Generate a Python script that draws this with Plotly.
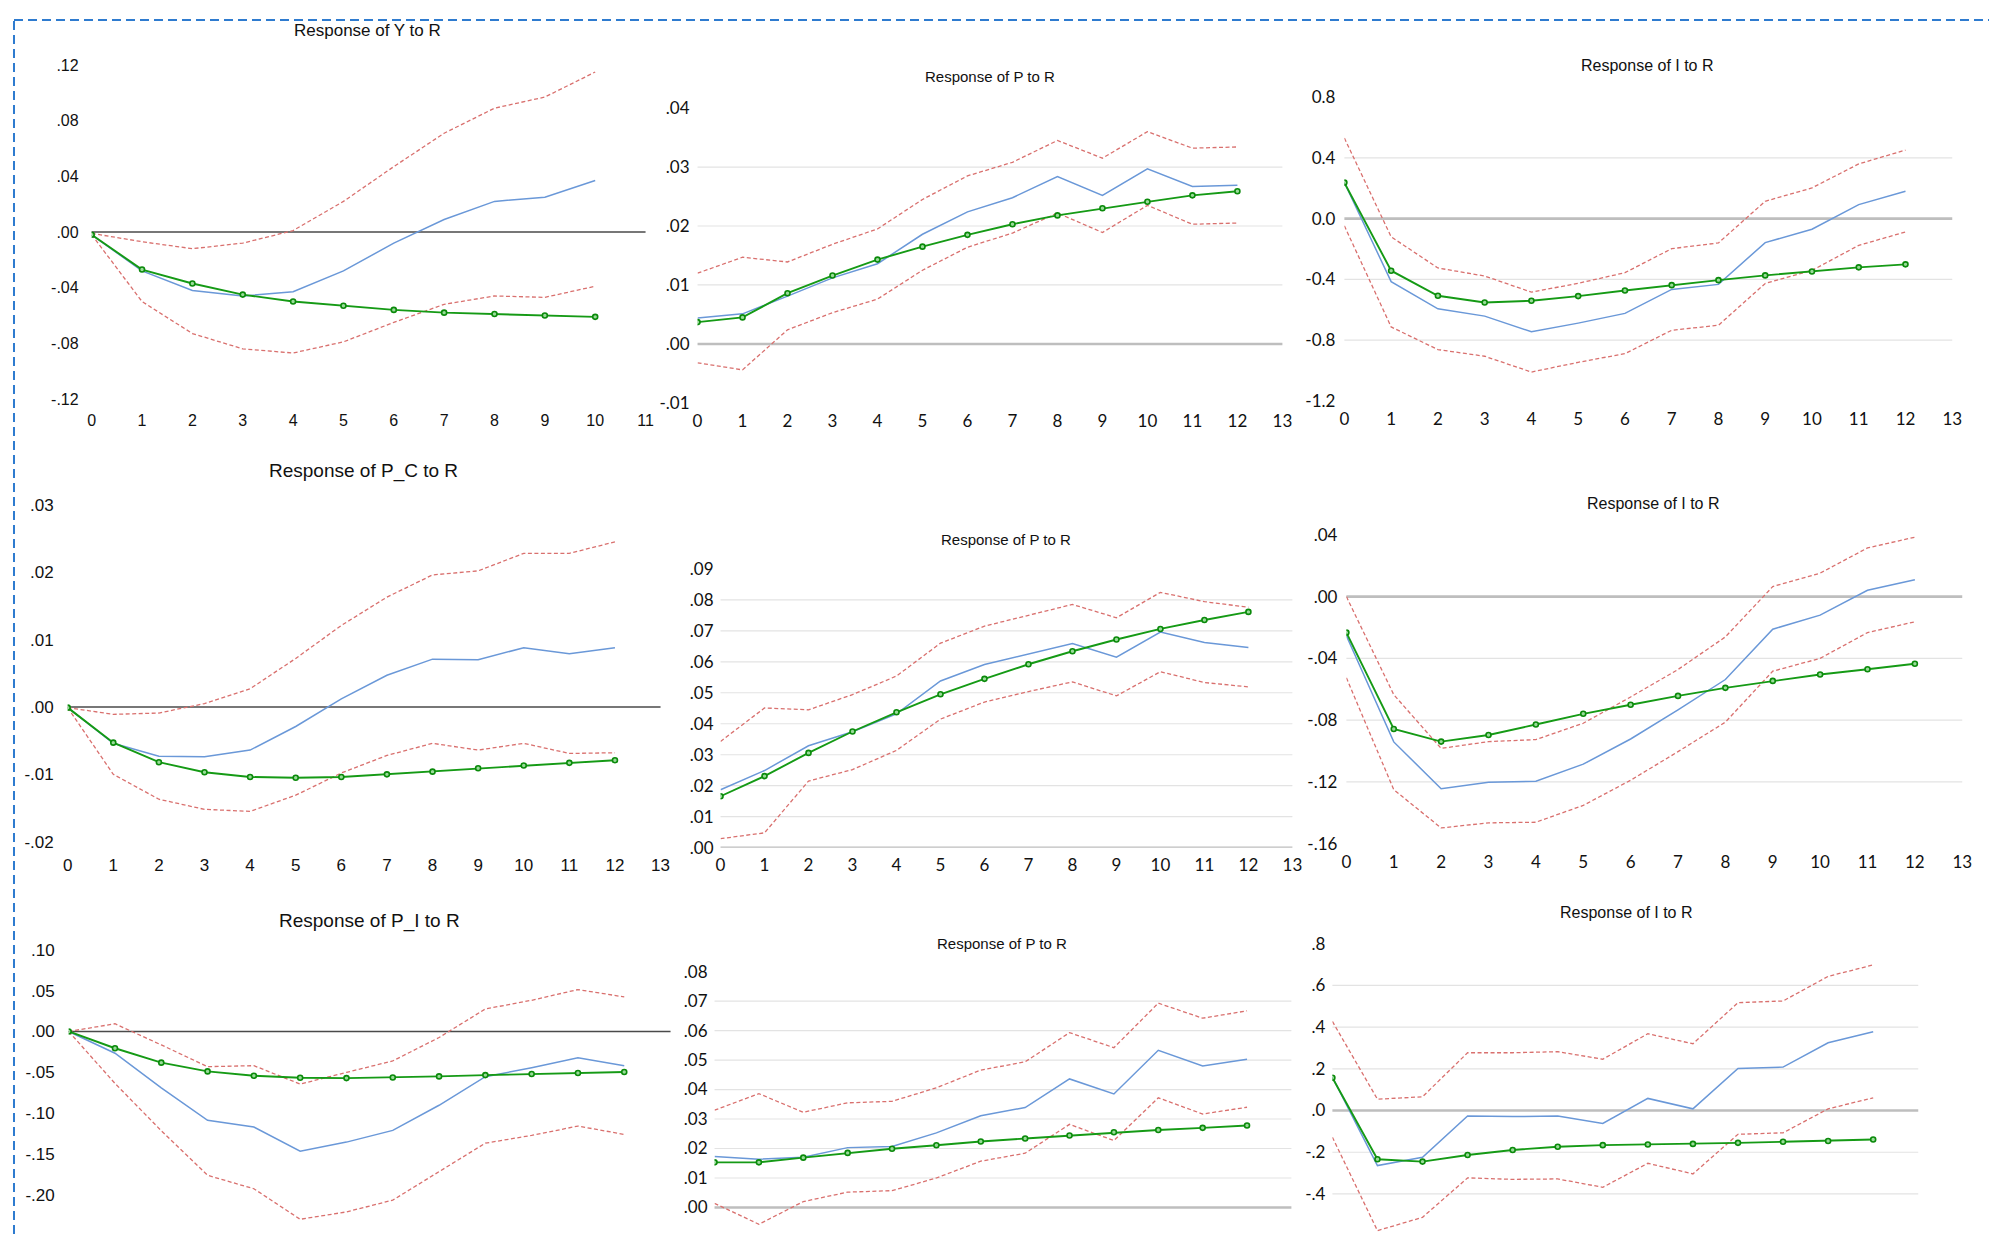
import plotly.graph_objects as go

# where a figure pixel ends up on the 2007x1241 photo (measured from earlier renders)
ORG_X, SCALE_X = 12.3, 0.9927
ORG_Y, SCALE_Y = 17.9, 0.9835
FIG_W, FIG_H = 1991, 1236

steps_10 = list(range(11))
steps_12 = list(range(13))

# Response of Y to R
y_r_upper = [-0.001, -0.007, -0.012, -0.008, 0.001, 0.022, 0.047, 0.071, 0.089, 0.097, 0.115]
y_r_resp = [-0.002, -0.028, -0.042, -0.046, -0.043, -0.028, -0.008, 0.009, 0.022, 0.025, 0.037]
y_r_fitted = [-0.002, -0.027, -0.037, -0.045, -0.050, -0.053, -0.056, -0.058, -0.059, -0.060, -0.061]
y_r_lower = [-0.002, -0.050, -0.073, -0.084, -0.087, -0.079, -0.065, -0.052, -0.046, -0.047, -0.039]
y_r_ticks = [".12", ".08", ".04", ".00", "-.04", "-.08", "-.12"]

# Response of P to R (top)
p_r_upper = [0.0120, 0.0147, 0.0139, 0.0169, 0.0195, 0.0245, 0.0285, 0.0308, 0.0345, 0.0315, 0.0360, 0.0332, 0.0334]
p_r_resp = [0.0044, 0.0051, 0.0081, 0.0112, 0.0136, 0.0186, 0.0224, 0.0248, 0.0284, 0.0252, 0.0297, 0.0267, 0.0269]
p_r_fitted = [0.0037, 0.0045, 0.0086, 0.0116, 0.0143, 0.0165, 0.0185, 0.0203, 0.0218, 0.0230, 0.0241, 0.0252, 0.0259]
p_r_lower = [-0.0032, -0.0044, 0.0024, 0.0053, 0.0076, 0.0125, 0.0164, 0.0188, 0.0222, 0.0189, 0.0235, 0.0203, 0.0205]
p_r_ticks = [".04", ".03", ".02", ".01", ".00", "-.01"]

# Response of I to R (top)
i_r_upper = [0.530, -0.120, -0.325, -0.378, -0.484, -0.426, -0.356, -0.198, -0.160, 0.114, 0.202, 0.360, 0.451]
i_r_resp = [0.237, -0.415, -0.594, -0.642, -0.745, -0.688, -0.624, -0.466, -0.433, -0.158, -0.070, 0.092, 0.180]
i_r_fitted = [0.237, -0.343, -0.508, -0.552, -0.541, -0.510, -0.473, -0.438, -0.405, -0.374, -0.348, -0.321, -0.301]
i_r_lower = [-0.048, -0.713, -0.862, -0.906, -1.010, -0.946, -0.889, -0.735, -0.702, -0.427, -0.341, -0.176, -0.088]
i_r_ticks = ["0.8", "0.4", "0.0", "-0.4", "-0.8", "-1.2"]

# Response of P_C to R
pc_r_upper = [-0.0001, -0.0011, -0.0009, 0.0005, 0.0027, 0.0072, 0.0121, 0.0163, 0.0196, 0.0202, 0.0228, 0.0228, 0.0245]
pc_r_resp = [-0.0001, -0.0054, -0.0073, -0.0074, -0.0064, -0.0029, 0.0012, 0.0047, 0.0071, 0.0070, 0.0088, 0.0079, 0.0088]
pc_r_fitted = [-0.0001, -0.0053, -0.0082, -0.0097, -0.0104, -0.0105, -0.0104, -0.0100, -0.0096, -0.0091, -0.0087, -0.0083, -0.0079]
pc_r_lower = [-0.0001, -0.0100, -0.0137, -0.0152, -0.0155, -0.0131, -0.0098, -0.0072, -0.0054, -0.0064, -0.0054, -0.0069, -0.0068]
pc_r_ticks = [".03", ".02", ".01", ".00", "-.01", "-.02"]

# Response of P to R (middle)
p2_r_upper = [0.0343, 0.0451, 0.0445, 0.0494, 0.0554, 0.0660, 0.0715, 0.0749, 0.0785, 0.0742, 0.0824, 0.0794, 0.0776]
p2_r_resp = [0.0187, 0.0249, 0.0329, 0.0374, 0.0432, 0.0538, 0.0591, 0.0626, 0.0659, 0.0615, 0.0696, 0.0662, 0.0646]
p2_r_fitted = [0.0166, 0.0231, 0.0306, 0.0375, 0.0437, 0.0495, 0.0545, 0.0592, 0.0634, 0.0672, 0.0706, 0.0735, 0.0761]
p2_r_lower = [0.0029, 0.0048, 0.0215, 0.0252, 0.0314, 0.0415, 0.0470, 0.0504, 0.0535, 0.0490, 0.0568, 0.0533, 0.0519]
p2_r_ticks = [".09", ".08", ".07", ".06", ".05", ".04", ".03", ".02", ".01", ".00"]

# Response of I to R (middle)
i2_r_upper = [0.0, -0.0635, -0.0983, -0.0939, -0.0926, -0.0820, -0.0650, -0.0472, -0.0261, 0.0065, 0.0152, 0.0315, 0.0385]
i2_r_resp = [-0.0254, -0.0941, -0.1244, -0.1202, -0.1196, -0.1085, -0.0922, -0.0733, -0.0537, -0.0211, -0.0120, 0.0041, 0.0109]
i2_r_fitted = [-0.0233, -0.0857, -0.0939, -0.0896, -0.0828, -0.0759, -0.0700, -0.0643, -0.0591, -0.0546, -0.0504, -0.0470, -0.0435]
i2_r_lower = [-0.0526, -0.1250, -0.1498, -0.1465, -0.1461, -0.1352, -0.1189, -0.1004, -0.0813, -0.0483, -0.0400, -0.0233, -0.0163]
i2_r_ticks = [".04", ".00", "-.04", "-.08", "-.12", "-.16"]

# Response of P_I to R
pi_r_upper = [0.0, 0.0094, -0.0164, -0.0430, -0.0418, -0.0643, -0.0500, -0.0360, -0.0074, 0.0275, 0.0381, 0.0512, 0.0422]
pi_r_resp = [0.0, -0.0266, -0.0689, -0.1086, -0.1168, -0.1463, -0.1352, -0.1209, -0.0902, -0.0553, -0.0443, -0.0320, -0.0418]
pi_r_fitted = [0.0, -0.0205, -0.0381, -0.0488, -0.0541, -0.0566, -0.0570, -0.0562, -0.0549, -0.0533, -0.0520, -0.0508, -0.0496]
pi_r_lower = [0.0, -0.0635, -0.1213, -0.1758, -0.1922, -0.2295, -0.2205, -0.2061, -0.1713, -0.1365, -0.1270, -0.1156, -0.1258]
pi_r_ticks = [".10", ".05", ".00", "-.05", "-.10", "-.15", "-.20", "-.25"]

# Response of P to R (bottom)
p3_r_upper = [0.0330, 0.0386, 0.0323, 0.0355, 0.0360, 0.0406, 0.0466, 0.0494, 0.0593, 0.0542, 0.0693, 0.0642, 0.0667]
p3_r_resp = [0.0173, 0.0164, 0.0170, 0.0203, 0.0207, 0.0253, 0.0311, 0.0339, 0.0436, 0.0385, 0.0533, 0.0480, 0.0503]
p3_r_fitted = [0.0153, 0.0153, 0.0169, 0.0185, 0.0199, 0.0211, 0.0224, 0.0234, 0.0244, 0.0255, 0.0263, 0.0270, 0.0278]
p3_r_lower = [0.0014, -0.0057, 0.0020, 0.0052, 0.0057, 0.0100, 0.0157, 0.0184, 0.0282, 0.0227, 0.0372, 0.0317, 0.0340]
p3_r_ticks = [".08", ".07", ".06", ".05", ".04", ".03", ".02", ".01", ".00", "-.01"]

# Response of I to R (bottom)
i3_r_upper = [0.427, 0.054, 0.066, 0.277, 0.277, 0.282, 0.246, 0.368, 0.320, 0.517, 0.525, 0.643, 0.698]
i3_r_resp = [0.160, -0.264, -0.224, -0.026, -0.029, -0.026, -0.062, 0.058, 0.008, 0.202, 0.208, 0.325, 0.378]
i3_r_fitted = [0.157, -0.234, -0.245, -0.213, -0.189, -0.174, -0.166, -0.163, -0.160, -0.155, -0.150, -0.146, -0.139]
i3_r_lower = [-0.128, -0.576, -0.512, -0.323, -0.330, -0.328, -0.368, -0.253, -0.304, -0.114, -0.107, 0.008, 0.061]
i3_r_ticks = [".8", ".6", ".4", ".2", ".0", "-.2", "-.4", "-.6"]

BLUE = "#6A98D8"
RED = "#D9706E"
GREEN = "#159A15"
ARIAL = "Liberation Sans, Arial, sans-serif"
LATO = "Lato, Calibri, sans-serif"

# box = photo px (left, right, top, bottom) of the plot area; the bottom row runs off the page
panels = [
    dict(title="Response of Y to R", x=steps_10, hi=y_r_upper, mid=y_r_resp, fit=y_r_fitted, lo=y_r_lower,
         ticks=y_r_ticks, xmax=11, yr=[-0.12, 0.12], box=(91, 645, 64, 398), tpos=(367, 29), tsize=17,
         font=ARIAL, fsize=16, excel=False, ygap=12, xgap=10, xlabels=True),
    dict(title="Response of P to R", x=steps_12, hi=p_r_upper, mid=p_r_resp, fit=p_r_fitted, lo=p_r_lower,
         ticks=p_r_ticks, xmax=13, yr=[-0.01, 0.04], box=(697, 1282, 107, 402), tpos=(990, 75), tsize=15,
         font=LATO, fsize=17, excel=True, ygap=7, xgap=6, xlabels=True),
    dict(title="Response of I to R", x=steps_12, hi=i_r_upper, mid=i_r_resp, fit=i_r_fitted, lo=i_r_lower,
         ticks=i_r_ticks, xmax=13, yr=[-1.2, 0.8], box=(1344, 1952, 96, 400), tpos=(1647, 64), tsize=16,
         font=LATO, fsize=17, excel=True, ygap=8, xgap=6, xlabels=True),
    dict(title="Response of P_C to R", x=steps_12, hi=pc_r_upper, mid=pc_r_resp, fit=pc_r_fitted, lo=pc_r_lower,
         ticks=pc_r_ticks, xmax=13, yr=[-0.02, 0.03], box=(67, 660, 504, 841), tpos=(363, 470), tsize=19,
         font=ARIAL, fsize=17, excel=False, ygap=13, xgap=11, xlabels=True),
    dict(title="Response of P to R", x=steps_12, hi=p2_r_upper, mid=p2_r_resp, fit=p2_r_fitted, lo=p2_r_lower,
         ticks=p2_r_ticks, xmax=13, yr=[0.0, 0.09], box=(720, 1292, 568, 847), tpos=(1006, 539), tsize=15,
         font=LATO, fsize=17, excel=True, ygap=6, xgap=5, xlabels=True),
    dict(title="Response of I to R", x=steps_12, hi=i2_r_upper, mid=i2_r_resp, fit=i2_r_fitted, lo=i2_r_lower,
         ticks=i2_r_ticks, xmax=13, yr=[-0.16, 0.04], box=(1346, 1962, 534, 843), tpos=(1653, 503), tsize=16,
         font=LATO, fsize=17, excel=True, ygap=8, xgap=6, xlabels=True),
    dict(title="Response of P_I to R", x=steps_12, hi=pi_r_upper, mid=pi_r_resp, fit=pi_r_fitted, lo=pi_r_lower,
         ticks=pi_r_ticks, xmax=13, yr=[-0.2475, 0.10], box=(68, 670, 949, 1234), tpos=(369, 920), tsize=19,
         font=ARIAL, fsize=17, excel=False, ygap=13, xgap=11, xlabels=False),
    dict(title="Response of P to R", x=steps_12, hi=p3_r_upper, mid=p3_r_resp, fit=p3_r_fitted, lo=p3_r_lower,
         ticks=p3_r_ticks, xmax=13, yr=[-0.0090, 0.08], box=(714, 1291, 971, 1234), tpos=(1002, 943), tsize=15,
         font=LATO, fsize=17, excel=True, ygap=6, xgap=5, xlabels=False),
    dict(title="Response of I to R", x=steps_12, hi=i3_r_upper, mid=i3_r_resp, fit=i3_r_fitted, lo=i3_r_lower,
         ticks=i3_r_ticks, xmax=13, yr=[-0.592, 0.8], box=(1332, 1918, 943, 1234), tpos=(1626, 912), tsize=16,
         font=LATO, fsize=17, excel=True, ygap=6, xgap=5, xlabels=False),
]


def px_x(v):
    return min(1.0, max(0.0, (v - ORG_X) / SCALE_X / FIG_W))


def px_y(v):
    return min(1.0, max(0.0, 1 - (v - ORG_Y) / SCALE_Y / FIG_H))


fig = go.Figure()
shapes = []
annotations = []
layout = {}

for i, p in enumerate(panels, 1):
    sfx = "" if i == 1 else str(i)
    xa, ya = "x" + sfx, "y" + sfx
    left, right, top, bottom = p["box"]
    vals = [float(t) for t in p["ticks"]]

    layout["xaxis" + sfx] = dict(
        domain=[px_x(left), px_x(right)], range=[0, p["xmax"]], anchor=ya,
        tickvals=list(range(p["xmax"] + 1)), showticklabels=p["xlabels"],
        showgrid=False, zeroline=False, showline=False,
        ticks="", ticklabelstandoff=p["xgap"], tickfont=dict(family=p["font"], size=p["fsize"], color="#111111"),
        fixedrange=True,
    )
    layout["yaxis" + sfx] = dict(
        domain=[px_y(bottom), px_y(top)], range=p["yr"], anchor=xa,
        tickvals=vals, ticktext=p["ticks"], showgrid=False, zeroline=False, showline=False,
        ticks="", ticklabelstandoff=p["ygap"], tickfont=dict(family=p["font"], size=p["fsize"], color="#111111"),
        fixedrange=True,
    )

    # light gridlines on inner ticks (excel-style panels only)
    if p["excel"]:
        for v in vals:
            if min(vals) < v < max(vals) and v != 0 and p["yr"][0] < v < p["yr"][1]:
                shapes.append(dict(type="line", xref=xa + " domain", x0=0, x1=1, yref=ya, y0=v, y1=v,
                                   layer="below", line=dict(color="#E3E3E3", width=1.2)))
        zl = dict(color="#BEBEBE", width=2.6)
    else:
        zl = dict(color="#4A4A4A", width=1.6)
    shapes.append(dict(type="line", xref=xa + " domain", x0=0, x1=1, yref=ya, y0=0, y1=0,
                       layer="below", line=zl))

    annotations.append(dict(text=p["title"], xref="paper", yref="paper", x=px_x(p["tpos"][0]),
                            y=px_y(p["tpos"][1]), xanchor="center", yanchor="middle", showarrow=False,
                            font=dict(family=ARIAL, size=p["tsize"], color="#111111")))

    for key in ["hi", "lo"]:
        fig.add_trace(go.Scatter(x=p["x"], y=p[key], xaxis=xa, yaxis=ya, mode="lines",
                                 line=dict(color=RED, width=1.3, dash="4px,2.5px"), hoverinfo="skip"))
    fig.add_trace(go.Scatter(x=p["x"], y=p["mid"], xaxis=xa, yaxis=ya, mode="lines",
                             line=dict(color=BLUE, width=1.5)))
    fig.add_trace(go.Scatter(x=p["x"], y=p["fit"], xaxis=xa, yaxis=ya, mode="lines+markers",
                             line=dict(color=GREEN, width=1.9),
                             marker=dict(size=5, color="#9ADB9A", line=dict(color="#0B8A0B", width=1.6))))

# dashed selection frame (top and left edges only, the rest is off the page)
frame = dict(color="#2E7BCF", width=2, dash="9px,5px")
fx, fy = 1 / FIG_W, 1 - 1 / FIG_H
shapes.append(dict(type="line", xref="paper", yref="paper", x0=fx, x1=1, y0=fy, y1=fy, line=frame))
shapes.append(dict(type="line", xref="paper", yref="paper", x0=fx, x1=fx, y0=0, y1=fy, line=frame))

fig.update_layout(
    width=FIG_W, height=FIG_H, margin=dict(l=0, r=0, t=0, b=0),
    paper_bgcolor="white", plot_bgcolor="white", showlegend=False,
    shapes=shapes, annotations=annotations, **layout,
)

fig.write_html("out.html")
